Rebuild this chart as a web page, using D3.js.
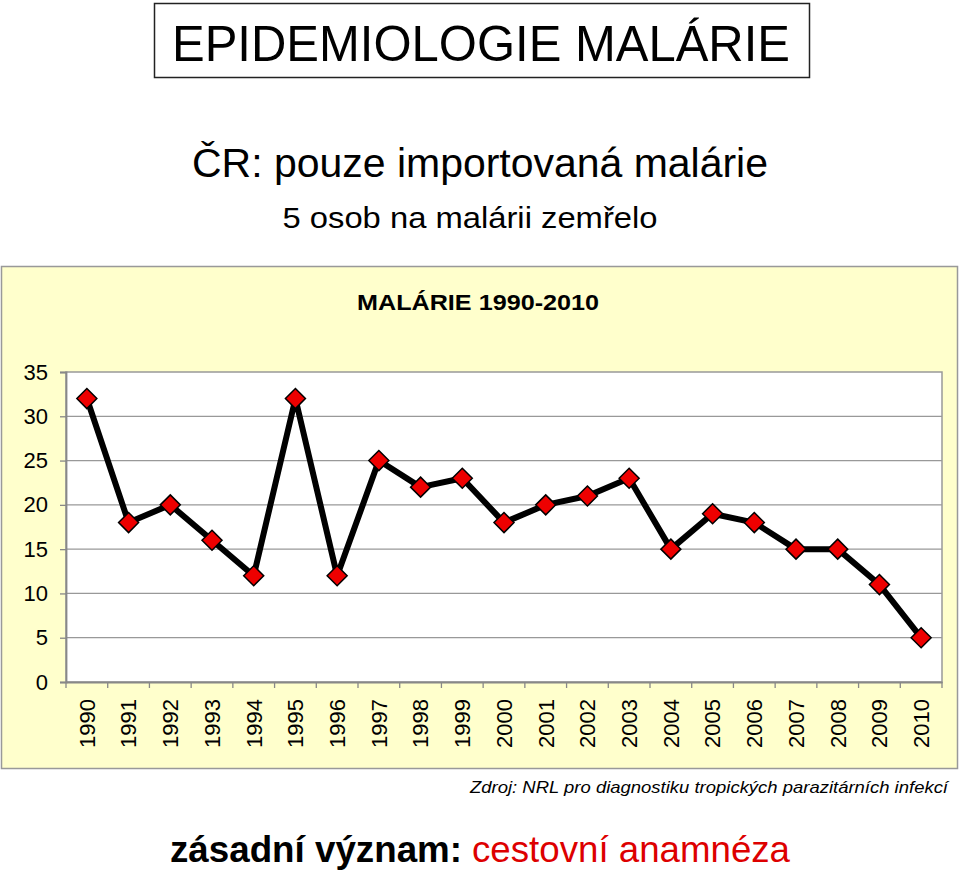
<!DOCTYPE html>
<html><head><meta charset="utf-8">
<script src="https://cdn.jsdelivr.net/npm/d3@7"></script>
<style>body{margin:0;background:#fff;}svg{display:block;font-family:"Liberation Sans",Arial,sans-serif;}</style>
</head><body>
<svg id="c" width="960" height="873"></svg>
<script>
const years = ["1990","1991","1992","1993","1994","1995","1996","1997","1998","1999","2000","2001","2002","2003","2004","2005","2006","2007","2008","2009","2010"];
const cases = [32,18,20,16,12,32,12,25,22,23,18,20,21,23,15,19,18,15,15,11,5];
const yTicks = [0,5,10,15,20,25,30,35];

const svg = d3.select("#c");

// Title box
svg.append("rect").attr("x",154.5).attr("y",3.5).attr("width",655).attr("height",74)
  .attr("fill","#fff").attr("stroke","#222").attr("stroke-width",1.5);
svg.append("text").attr("x",481).attr("y",61).attr("text-anchor","middle")
  .attr("font-size",50).attr("textLength",618).attr("lengthAdjust","spacingAndGlyphs")
  .text("EPIDEMIOLOGIE MALÁRIE");
svg.append("text").attr("x",480).attr("y",177).attr("text-anchor","middle")
  .attr("font-size",40).attr("textLength",576).attr("lengthAdjust","spacingAndGlyphs")
  .text("ČR: pouze importovaná malárie");
svg.append("text").attr("x",470).attr("y",228).attr("text-anchor","middle")
  .attr("font-size",30).attr("textLength",375).attr("lengthAdjust","spacingAndGlyphs")
  .text("5 osob na malárii zemřelo");

// Chart area
svg.append("rect").attr("x",1.5).attr("y",266.5).attr("width",956).attr("height",502)
  .attr("fill","#FFFFCC").attr("stroke","#999").attr("stroke-width",1.5);
svg.append("text").attr("x",478).attr("y",310).attr("text-anchor","middle")
  .attr("font-size",22.5).attr("font-weight","bold").attr("textLength",242).attr("lengthAdjust","spacingAndGlyphs")
  .text("MALÁRIE 1990-2010");

const L=66, R=942, T=372, B=682;
const x = d3.scaleBand().domain(years).range([L,R]);
const y = d3.scaleLinear().domain([0,35]).range([B,T]);

svg.append("rect").attr("x",L).attr("y",T).attr("width",R-L).attr("height",B-T)
  .attr("fill","#fff").attr("stroke","#999").attr("stroke-width",1.5);

// gridlines
svg.append("g").selectAll("line").data(yTicks.filter(d=>d>0&&d<35)).join("line")
  .attr("x1",L).attr("x2",R).attr("y1",d=>y(d)).attr("y2",d=>y(d))
  .attr("stroke","#999").attr("stroke-width",1.3);

// y axis
const ya = svg.append("g").attr("transform",`translate(${L},0)`)
  .call(d3.axisLeft(y).tickValues(yTicks).tickSize(6).tickPadding(12));
ya.attr("font-size",22).attr("font-family","Liberation Sans, Arial, sans-serif");
ya.select(".domain").attr("stroke","#888").attr("stroke-width",1.8);
ya.selectAll(".tick line").attr("stroke","#888").attr("stroke-width",1.3);
ya.selectAll(".tick text").attr("fill","#000").attr("font-size",22);

// x axis
const xa = svg.append("g").attr("transform",`translate(0,${B})`)
  .call(d3.axisBottom(x).tickSize(0).tickPadding(0));
xa.attr("font-size",22).attr("font-family","Liberation Sans, Arial, sans-serif");
xa.select(".domain").attr("stroke","#888").attr("stroke-width",1.8);
xa.selectAll(".tick text").attr("fill","#000").attr("font-size",22)
  .attr("transform","rotate(-90)").attr("text-anchor","end")
  .attr("x",-17).attr("y",0).attr("dy","0.36em");
// category separator ticks
svg.append("g").selectAll("line").data(years.concat(["end"])).join("line")
  .attr("x1",(d,i)=>L+i*x.step()).attr("x2",(d,i)=>L+i*x.step())
  .attr("y1",B).attr("y2",B+6).attr("stroke","#888").attr("stroke-width",1.3);

// line
const line = d3.line().x((d,i)=>x(years[i])+x.bandwidth()/2).y(d=>y(d));
svg.append("path").datum(cases).attr("d",line).attr("fill","none")
  .attr("stroke","#000").attr("stroke-width",6).attr("stroke-linejoin","round");

// markers
svg.append("g").selectAll("path").data(cases).join("path")
  .attr("transform",(d,i)=>`translate(${x(years[i])+x.bandwidth()/2},${y(d)})`)
  .attr("d","M0,-10L10,0L0,10L-10,0Z")
  .attr("fill","#EE0000").attr("stroke","#000").attr("stroke-width",1.5);

// source
svg.append("text").attr("x",948).attr("y",793).attr("text-anchor","end")
  .attr("font-size",17).attr("font-style","italic").attr("textLength",478).attr("lengthAdjust","spacingAndGlyphs")
  .text("Zdroj: NRL pro diagnostiku tropických parazitárních infekcí");

// bottom text
svg.append("text").attr("x",170).attr("y",862).attr("font-size",37).attr("font-weight","bold")
  .attr("fill","#000").attr("textLength",292).attr("lengthAdjust","spacingAndGlyphs").text("zásadní význam:");
svg.append("text").attr("x",472).attr("y",862).attr("font-size",37)
  .attr("fill","#DD0000").attr("textLength",318).attr("lengthAdjust","spacingAndGlyphs").text("cestovní anamnéza");
</script>
</body></html>
